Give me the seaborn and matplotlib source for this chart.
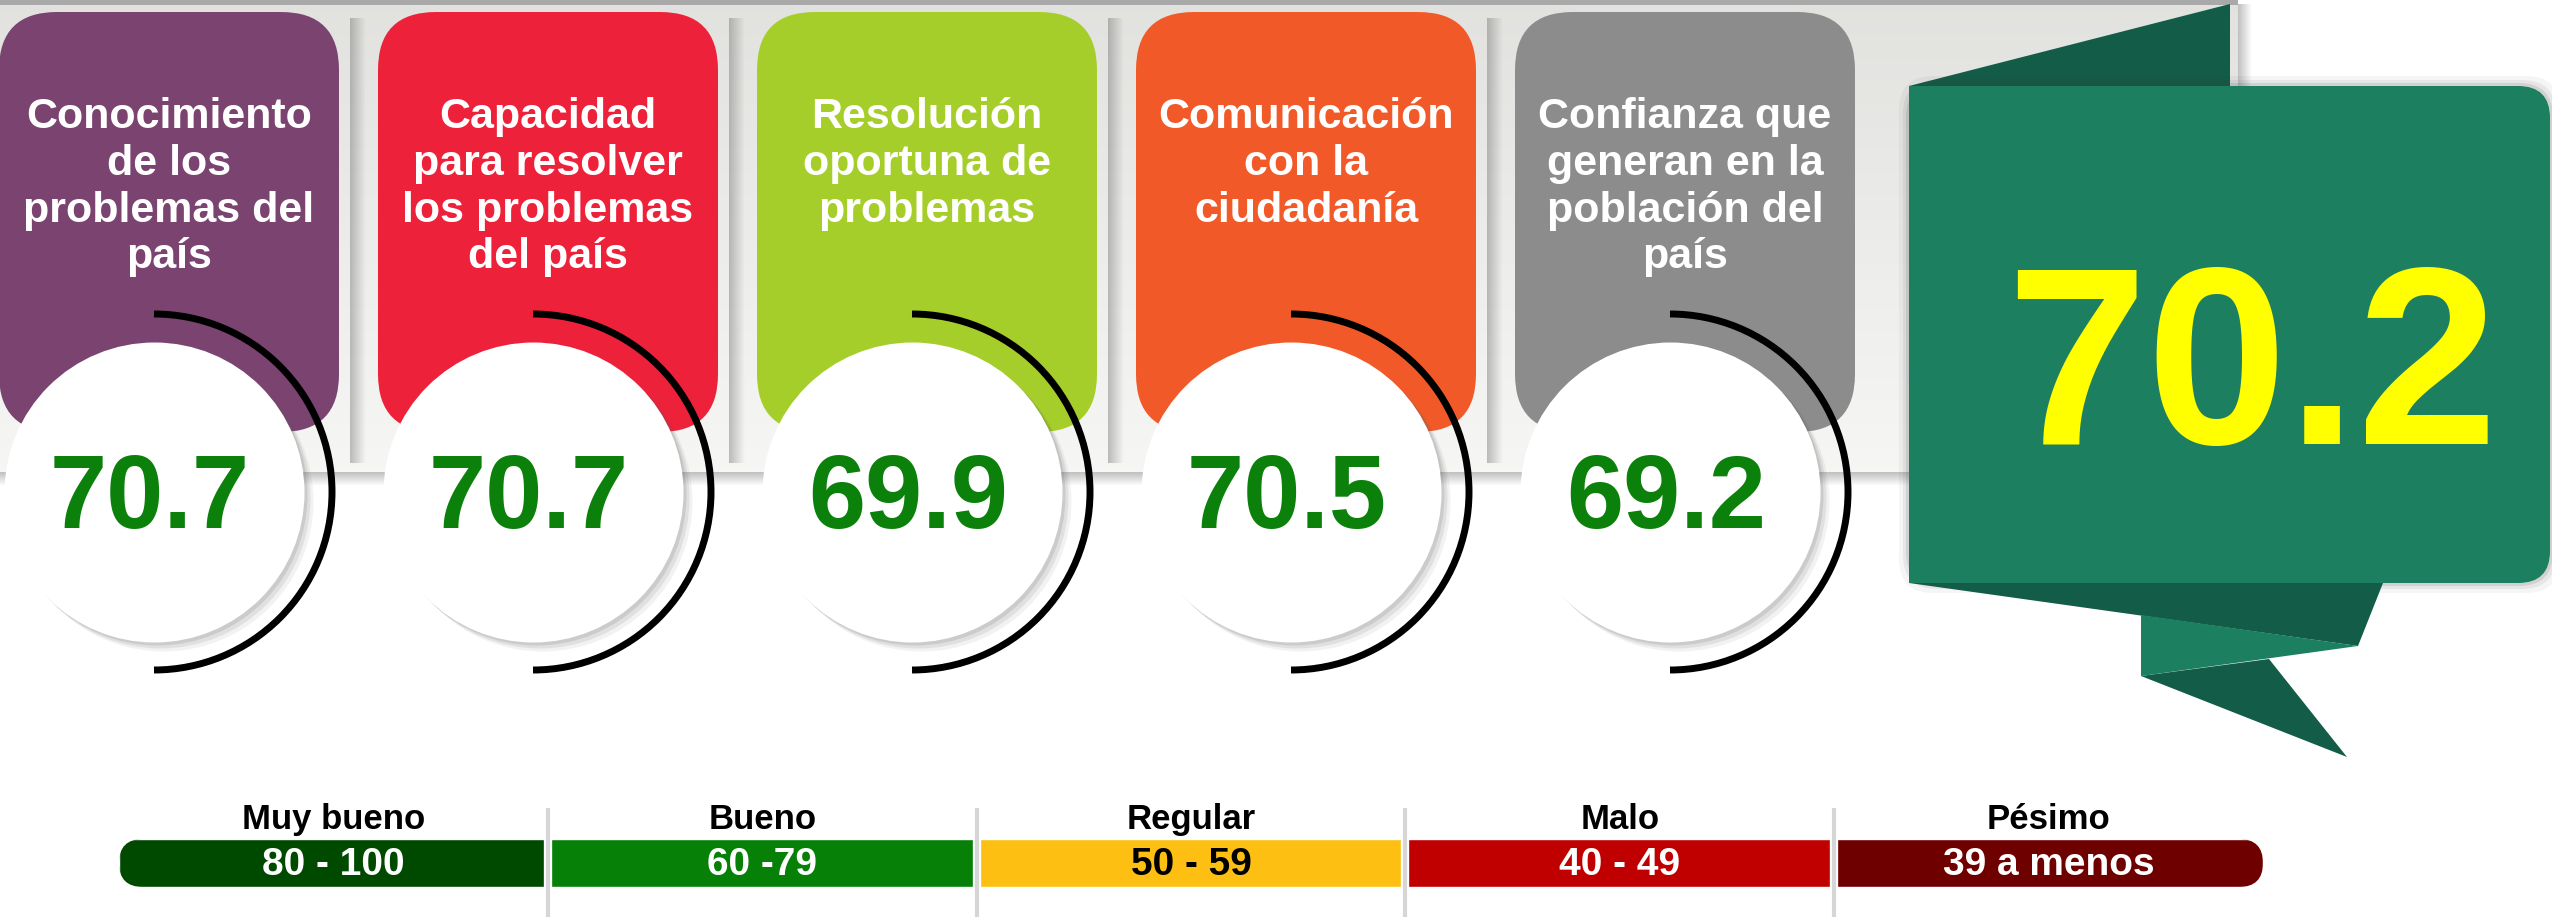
"""
Infografía: evaluación de la gestión (cinco criterios + puntaje general)
"""

import numpy as np
import matplotlib
matplotlib.use("Agg")
import matplotlib.pyplot as plt
import seaborn as sns
from matplotlib.patches import FancyBboxPatch, Rectangle, Polygon, Arc

# =====================================================
# Data
# =====================================================
criteria = [
    "Conocimiento\nde los\nproblemas del\npaís",
    "Capacidad\npara resolver\nlos problemas\ndel país",
    "Resolución\noportuna de\nproblemas",
    "Comunicación\ncon la\nciudadanía",
    "Confianza que\ngeneran en la\npoblación del\npaís",
]
scores = [70.7, 70.7, 69.9, 70.5, 69.2]
card_colors = ["#7a4370", "#ed2139", "#a6ce2b", "#f15a28", "#8c8c8c"]

overall_score = 70.2

scale_names = ["Muy bueno", "Bueno", "Regular", "Malo", "Pésimo"]
scale_ranges = ["80 - 100", "60 -79", "50 - 59", "40 - 49", "39 a menos"]
scale_colors = ["#004a00", "#068006", "#fdbf12", "#c00000", "#6e0000"]
scale_text_colors = ["white", "white", "black", "white", "white"]

# =====================================================
# Figure (1 data unit = 1 pixel, y grows downwards)
# =====================================================
sns.set_theme(style="white")
plt.rcParams["font.family"] = ["Liberation Sans", "DejaVu Sans"]

W, H = 2552, 917
fig = plt.figure(figsize=(W / 100, H / 100), dpi=100)
ax = fig.add_axes([0, 0, 1, 1])
ax.axis("off")

# =====================================================
# Grey panel behind the cards
# =====================================================
PANEL_R, PANEL_B = 2238, 472
t = np.linspace(0, 1, 256)[:, None, None]
top_c = np.array([0.885, 0.885, 0.875])
bot_c = np.array([0.965, 0.965, 0.96])
ax.imshow(top_c + (bot_c - top_c) * t, extent=(0, PANEL_R, PANEL_B, 4),
          aspect="auto", interpolation="bilinear", zorder=0)
ax.add_patch(Rectangle((0, 0), PANEL_R, 5, color="#a9a9a9", lw=0, zorder=1))

# soft shadow below and right of the panel
shadow = np.zeros((32, 1, 4))
shadow[..., :3] = 0.45
shadow[..., 3] = np.linspace(0.45, 0, 32)[:, None]
ax.imshow(shadow, extent=(0, PANEL_R, PANEL_B + 14, PANEL_B),
          aspect="auto", interpolation="bilinear", zorder=1)
side = np.zeros((1, 32, 4))
side[..., :3] = 0.45
side[..., 3] = np.linspace(0.45, 0, 32)[None, :]
ax.imshow(side, extent=(PANEL_R, PANEL_R + 14, PANEL_B, 4),
          aspect="auto", interpolation="bilinear", zorder=1)

n = len(scores)
cx = 154 + 379 * np.arange(n)
CY, R_CIRCLE, R_ARC = 492, 150, 178

# vertical separators between cards
for x in cx[:-1] + 196:
    ax.imshow(side, extent=(x, x + 16, 463, 18),
              aspect="auto", interpolation="bilinear", zorder=1)

# =====================================================
# Cards
# =====================================================
for i in range(n):
    x0, x1 = cx[i] - 155, cx[i] + 185
    ax.add_patch(FancyBboxPatch((x0, 12), x1 - x0, 420,
                                boxstyle="round,pad=0,rounding_size=58",
                                facecolor=card_colors[i], edgecolor="none", zorder=2))
    ax.text((x0 + x1) / 2, 97, criteria[i], ha="center", va="top",
            color="white", fontsize=31, fontweight="bold",
            linespacing=1.22, zorder=3)

# =====================================================
# Score circles (seaborn scatter markers) + arcs
# =====================================================
size = (2 * R_CIRCLE * 72 / 100) ** 2
for off, a in [(9, 0.08), (6, 0.12), (3, 0.16)]:
    sns.scatterplot(x=cx + off, y=np.full(n, CY + off), s=size, color="#606060",
                    alpha=a, linewidth=0, ax=ax, zorder=4, legend=False)
sns.scatterplot(x=cx, y=np.full(n, CY), s=size, color="white",
                linewidth=0, ax=ax, zorder=5, legend=False)

for i in range(n):
    ax.add_patch(Arc((cx[i], CY), 2 * R_ARC, 2 * R_ARC, theta1=-90, theta2=90,
                     lw=5, color="black", capstyle="butt", zorder=6))
    ax.text(cx[i] - 4, 528, f"{scores[i]:.1f}", ha="center", va="baseline",
            fontsize=74, fontweight="bold", color="#0b800b", zorder=7)

# =====================================================
# Overall score ribbon
# =====================================================
dark_g, main_g = "#135c47", "#1b7f60"
ax.add_patch(Polygon([(1909, 86), (2230, 4), (2230, 86)], closed=True,
                     facecolor=dark_g, edgecolor="none", zorder=8))
for pad, a in [(10, 0.05), (6, 0.08), (3, 0.12)]:
    ax.add_patch(FancyBboxPatch((1909 - pad, 86 - pad), 641 + 2 * pad, 497 + 2 * pad,
                                boxstyle="round,pad=0,rounding_size=34",
                                facecolor="#404040", alpha=a, edgecolor="none", zorder=8))
ax.add_patch(FancyBboxPatch((1909, 86), 641, 497,
                            boxstyle="round,pad=0,rounding_size=32",
                            facecolor=main_g, edgecolor="none", zorder=9))
ax.add_patch(Rectangle((1909, 86), 60, 497, facecolor=main_g, edgecolor="none", zorder=9))
ax.add_patch(Polygon([(1909, 583), (2383, 583), (2358, 646)], closed=True,
                     facecolor=dark_g, edgecolor="none", zorder=9))
ax.add_patch(Polygon([(2141, 615), (2358, 646), (2141, 676)], closed=True,
                     facecolor=main_g, edgecolor="none", zorder=9))
ax.add_patch(Polygon([(2141, 676), (2269, 659), (2347, 757)], closed=True,
                     facecolor=dark_g, edgecolor="none", zorder=9))
ax.text(2252, 444, f"{overall_score:.1f}", ha="center", va="baseline",
        fontsize=182, fontweight="bold", color="#ffff00", zorder=10)

# =====================================================
# Rating scale
# =====================================================
BAR_X0, BAR_X1, BAR_Y, BAR_H = 119, 2263, 863, 48
seg_w = (BAR_X1 - BAR_X0) / len(scale_names)
lefts = BAR_X0 + seg_w * np.arange(len(scale_names))
bars = ax.barh(y=BAR_Y, width=seg_w, left=lefts, height=BAR_H,
               color=scale_colors, zorder=3)
clip = FancyBboxPatch((BAR_X0, BAR_Y - BAR_H / 2), BAR_X1 - BAR_X0, BAR_H,
                      boxstyle="round,pad=0,rounding_size=24",
                      facecolor="none", edgecolor="none", transform=ax.transData)
ax.add_patch(clip)
for b in bars:
    b.set_clip_path(clip)

for x in lefts[1:]:
    ax.plot([x, x], [808, H], color="white", lw=6, solid_capstyle="butt", zorder=4)
    ax.plot([x, x], [808, H], color="#d6d6d6", lw=3, solid_capstyle="butt", zorder=5)

for i in range(len(scale_names)):
    mid = lefts[i] + seg_w / 2
    ax.text(mid, 829, scale_names[i], ha="center", va="baseline",
            fontsize=25, fontweight="bold", color="black", zorder=6)
    ax.text(mid, 875, scale_ranges[i], ha="center", va="baseline",
            fontsize=28, fontweight="bold", color=scale_text_colors[i], zorder=6)

ax.set_xlim(0, W)
ax.set_ylim(H, 0)
fig.savefig("out.png", dpi=100, facecolor="white")
